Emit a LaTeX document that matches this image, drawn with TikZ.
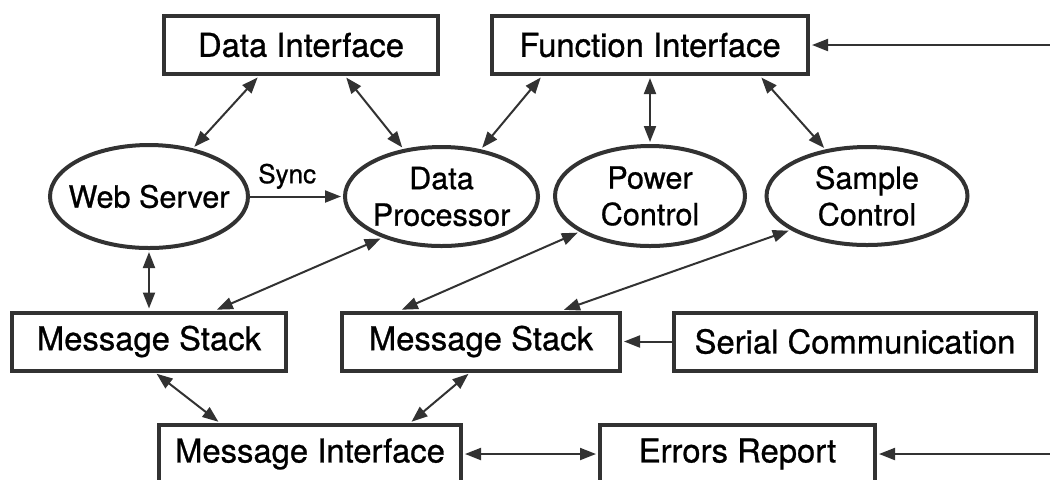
\documentclass[tikz,border=0pt]{standalone}
\usepackage{fontspec}
\setmainfont{TeX Gyre Heros}[FakeBold=0.8]
\usepackage{tikz}
\usetikzlibrary{positioning,arrows.meta,shapes.geometric}
\definecolor{linegray}{RGB}{50,50,50}

\begin{document}
\begin{tikzpicture}[>={Triangle[length=8pt,width=6pt]},on grid,
	box/.style={shape=rectangle,draw=linegray,line width=2pt,minimum height=29pt,inner sep=0pt,font=\fontsize{16.4}{18}\selectfont},
	oval/.style={shape=ellipse,draw=linegray,line width=2pt,inner sep=-8pt,align=center,font=\fontsize{15.3}{18.3}\selectfont},
	link/.style={<->,draw=linegray,line width=1pt,shorten <=1pt,shorten >=1pt},
	oneway/.style={->,draw=linegray,line width=1pt,shorten >=1pt},]
		\useasboundingbox (0,0) rectangle (525pt,-239.5pt);
		% create the nodes
		\node (dataif) [box,minimum width=137pt] at (150.5pt,-22.5pt) {Data Interface};
		\node (funcif) [box,right =174.5pt of dataif,minimum width=158pt] {Function Interface};
		
		\node (websrv) [oval,below left =75.75pt and 76pt of dataif,minimum width=99pt,minimum height=51.5pt] {Web Server};
		\node (dataproc) [oval,right =146.25pt of websrv,minimum width=96.5pt,minimum height=49.5pt] {Data\\Processor};
		\node (powerctl) [oval,below =75.5pt of funcif,minimum width=95pt,minimum height=50pt] {Power\\Control};
		\node (samplectl) [oval,right =108.5pt of powerctl,minimum width=100.5pt,minimum height=49pt] {Sample\\Control};
		
		\node (msgstack1) [box,below =72.5pt of websrv,minimum width=137pt] {Message Stack};
		\node (msgstack2) [box,right =166pt of msgstack1,minimum width=139pt] {Message Stack};
		\node (serial) [box,right =187pt of msgstack2,minimum width=181pt] {Serial Communication};
		
		\node (msgif) [box,below right =56.25pt and 80.5pt of msgstack1,minimum width=151pt] {Message Interface};
		\node (errrep) [box,right =213.75pt of msgif,minimum width=137.5pt] {Errors Report};
		
		\coordinate [right =200pt of funcif] (fiin);
		\coordinate [right =156.25pt of errrep] (erin);
		
		% connect the nodes
		\draw[link] ([xshift=-21pt]dataif.south) to (websrv);
		\draw[link] ([xshift=22pt]dataif.south) to (dataproc);
		\draw[link] ([xshift=-54pt]funcif.south) to (dataproc);
		\draw[link] (funcif) to (powerctl);
		\draw[link] ([xshift=55pt]funcif.south) to (samplectl);
		\draw[oneway] (websrv) to node[above,pos=0.4,font=\fontsize{13}{15}\selectfont] {Sync} (dataproc);
		\draw[link] (websrv) to (msgstack1);
		\draw[link] (dataproc.215) to ([xshift=33pt]msgstack1.north);
		\draw[link] (powerctl.207) to ([xshift=-40.5pt]msgstack2.north);
		\draw[link] (samplectl.204) to ([xshift=40.5pt]msgstack2.north);
		\draw[oneway] (serial) to (msgstack2);
		\draw[link] ([xshift=3pt]msgstack1.south) to ([xshift=-45pt]msgif.north);
		\draw[link] ([xshift=-5.5pt]msgstack2.south) to ([xshift=50pt]msgif.north);
		\draw[link] (msgif) to (errrep);
		\draw[oneway] (erin) to (errrep);
		\draw[oneway] (fiin) to (funcif);
		
	\end{tikzpicture}
\end{document}
